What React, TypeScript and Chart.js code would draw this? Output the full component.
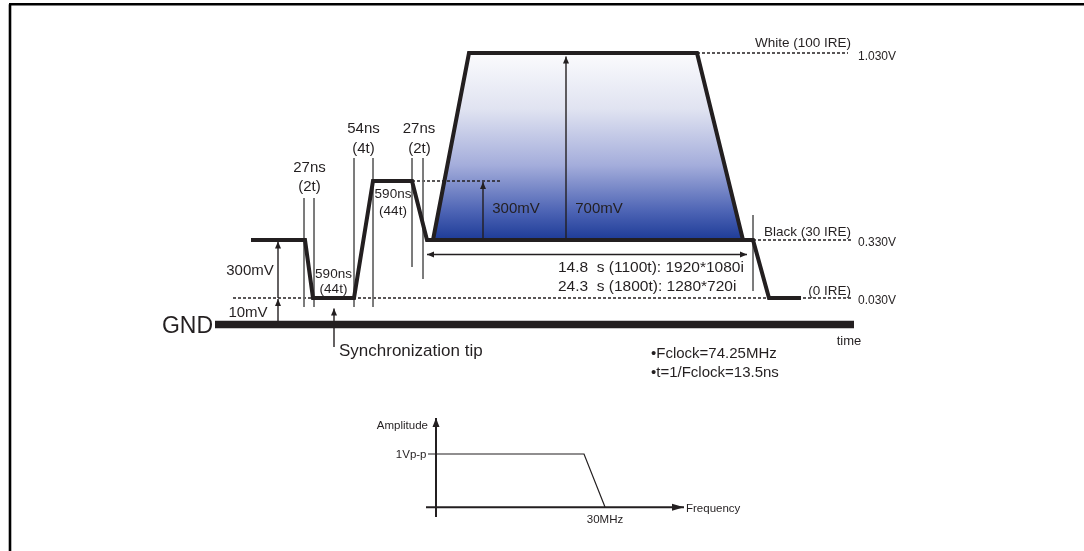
import React, { useEffect, useRef } from "react";
import { Chart, registerables } from "chart.js";

Chart.register(...registerables);

const FONT = '"Liberation Sans", Arial, Helvetica, sans-serif';
const INK = "#231f20";
const GRID = "#6b6b6b";

// Diagram levels (vertical diagram units, counted from the top of the figure)
const LEVEL_WHITE = 53;
const LEVEL_HIGH = 181;
const LEVEL_BLACK = 240;
const LEVEL_SYNC = 298;
const LEVEL_GND = 324.5;
const Y_RANGE = [0, 551];
const X_RANGE = [0, 1084];

// Tri-level sync waveform (time in diagram units)
const WAVE_T = [251, 305, 313, 354, 373, 412, 427, 753, 769, 801];
const WAVE_V = [
  LEVEL_BLACK, LEVEL_BLACK, LEVEL_SYNC, LEVEL_SYNC, LEVEL_HIGH,
  LEVEL_HIGH, LEVEL_BLACK, LEVEL_BLACK, LEVEL_SYNC, LEVEL_SYNC,
];

// Active video pulse (black -> white -> black)
const BURST_T = [433, 469, 697, 743];
const BURST_V = [LEVEL_BLACK, LEVEL_WHITE, LEVEL_WHITE, LEVEL_BLACK];

// Dashed reference levels
const REF_LEVEL = [LEVEL_WHITE, LEVEL_HIGH, LEVEL_BLACK, LEVEL_SYNC];
const REF_START = [697, 412, 753, 233];
const REF_END = [848, 502, 852, 852];

// Thin timing markers
const MARK_T = [304, 314, 354, 373, 412, 423, 753];
const MARK_TOP = [198, 198, 158, 158, 158, 158, 215];
const MARK_BOTTOM = [307, 307, 307, 307, 267, 279, 291];

// Ground bar
const GND_T = [215, 854];

// Measurement arrows: start -> tip
const ARROW_X1 = [278, 278, 334, 483, 566, 427];
const ARROW_Y1 = [298, 321, 347, LEVEL_BLACK, LEVEL_BLACK, 254.5];
const ARROW_X2 = [278, 278, 334, 483, 566, 747];
const ARROW_Y2 = [241.5, 299, 308.5, 182, 56.5, 254.5];
const ARROW_BOTH = [false, false, false, false, false, true];

// Inset: amplitude vs frequency response
const FREQ_F = [428, 584, 605];
const FREQ_A = [454, 454, 507];
const INSET_YAXIS_X = 436;
const INSET_YAXIS = [517, 418];
const INSET_XAXIS_Y = 507.3;
const INSET_XAXIS = [426, 684];

// Frame lines
const FRAME_TOP = [9, 1084];
const FRAME_TOP_Y = 4.3;
const FRAME_LEFT_X = 10;
const FRAME_LEFT = [4.3, 551];

type Label = { text: string; x: number; y: number; size: number; align?: CanvasTextAlign; color?: string };

const LABELS: Label[] = [
  { text: "White (100 IRE)", x: 851, y: 42, size: 13.5, align: "right" },
  { text: "1.030V", x: 858, y: 55.5, size: 12, align: "left" },
  { text: "Black (30 IRE)", x: 851, y: 231.5, size: 13.5, align: "right" },
  { text: "0.330V", x: 858, y: 242, size: 12, align: "left" },
  { text: "(0 IRE)", x: 851, y: 290.5, size: 13.5, align: "right" },
  { text: "0.030V", x: 858, y: 299.5, size: 12, align: "left" },
  { text: "time", x: 849, y: 340, size: 13, align: "center" },
  { text: "GND", x: 213, y: 324.5, size: 23, align: "right" },
  { text: "Synchronization tip", x: 339, y: 350, size: 17, align: "left" },
  { text: "27ns", x: 309.5, y: 167, size: 15, align: "center" },
  { text: "(2t)", x: 309.5, y: 186, size: 15, align: "center" },
  { text: "54ns", x: 363.5, y: 128, size: 15, align: "center" },
  { text: "(4t)", x: 363.5, y: 148, size: 15, align: "center" },
  { text: "27ns", x: 419, y: 128, size: 15, align: "center" },
  { text: "(2t)", x: 419.5, y: 148, size: 15, align: "center" },
  { text: "590ns", x: 393, y: 193, size: 13.5, align: "center" },
  { text: "(44t)", x: 393, y: 210, size: 13.5, align: "center" },
  { text: "590ns", x: 333.5, y: 273, size: 13.5, align: "center" },
  { text: "(44t)", x: 333.5, y: 288.5, size: 13.5, align: "center" },
  { text: "300mV", x: 250, y: 270, size: 15, align: "center" },
  { text: "10mV", x: 248, y: 311.5, size: 15, align: "center" },
  { text: "300mV", x: 516, y: 208, size: 15, align: "center" },
  { text: "700mV", x: 599, y: 208, size: 15, align: "center" },
  { text: "14.8  s (1100t): 1920*1080i", x: 558, y: 266.5, size: 15.5, align: "left" },
  { text: "24.3  s (1800t): 1280*720i", x: 558, y: 285, size: 15.5, align: "left" },
  { text: "•Fclock=74.25MHz", x: 651, y: 353, size: 15, align: "left" },
  { text: "•t=1/Fclock=13.5ns", x: 651, y: 371.5, size: 15, align: "left" },
  { text: "Amplitude", x: 428, y: 425, size: 11.5, align: "right" },
  { text: "1Vp-p", x: 426.5, y: 454, size: 11.5, align: "right" },
  { text: "30MHz", x: 605, y: 518.5, size: 11.5, align: "center" },
  { text: "Frequency", x: 686, y: 507.5, size: 11.5, align: "left" },
];

const labelPlugin = {
  id: "diagramLabels",
  afterDatasetsDraw(chart: any) {
    const { ctx, scales } = chart;
    ctx.save();
    LABELS.forEach((l) => {
      ctx.font = `${l.size}px ${FONT}`;
      ctx.fillStyle = l.color || INK;
      ctx.textAlign = l.align || "center";
      ctx.textBaseline = "alphabetic";
      const px = scales.x.getPixelForValue(l.x);
      const py = scales.y.getPixelForValue(l.y);
      ctx.fillText(l.text, px, py + l.size * 0.36);
    });
    ctx.restore();
  },
};

const arrowPlugin = {
  id: "arrowheads",
  afterDatasetsDraw(chart: any) {
    const ctx = chart.ctx;
    chart.data.datasets.forEach((ds: any, i: number) => {
      if (!ds.arrow) return;
      const pts = chart.getDatasetMeta(i).data;
      const n = pts.length;
      if (n < 2) return;
      const L = ds.arrowLength || 7;
      const W = ds.arrowWidth || 3;
      const head = (tip: any, from: any) => {
        const a = Math.atan2(tip.y - from.y, tip.x - from.x);
        const c = Math.cos(a);
        const s = Math.sin(a);
        ctx.save();
        ctx.fillStyle = ds.borderColor;
        ctx.beginPath();
        ctx.moveTo(tip.x, tip.y);
        ctx.lineTo(tip.x - L * c + W * s, tip.y - L * s - W * c);
        ctx.lineTo(tip.x - L * c - W * s, tip.y - L * s + W * c);
        ctx.closePath();
        ctx.fill();
        ctx.restore();
      };
      head(pts[n - 1], pts[n - 2]);
      if (ds.arrow === "both") head(pts[0], pts[1]);
    });
  },
};

function seg(x1: number, y1: number, x2: number, y2: number) {
  return [
    { x: x1, y: y1 },
    { x: x2, y: y2 },
  ];
}

const base = {
  showLine: true,
  pointRadius: 0,
  pointHoverRadius: 0,
  pointHitRadius: 0,
  tension: 0,
  clip: false as const,
  fill: false,
  borderCapStyle: "butt" as const,
};

function levelPixel(chart: any, v: number) {
  const ys = chart.scales && chart.scales.y;
  const p = ys ? ys.getPixelForValue(v) : NaN;
  if (Number.isFinite(p)) return p;
  return (v / Y_RANGE[1]) * (chart.height || 551);
}

export default function App() {
  const canvasRef = useRef<HTMLCanvasElement | null>(null);

  useEffect(() => {
    const canvas = canvasRef.current;
    if (!canvas) return;

    const datasets: any[] = [];

    // frame
    datasets.push({ ...base, order: 9, data: seg(FRAME_TOP[0], FRAME_TOP_Y, FRAME_TOP[1], FRAME_TOP_Y), borderColor: "#000", borderWidth: 2.6 });
    datasets.push({ ...base, order: 9, data: seg(FRAME_LEFT_X, FRAME_LEFT[0], FRAME_LEFT_X, FRAME_LEFT[1]), borderColor: "#000", borderWidth: 2.6 });

    // gradient fill of the active video pulse
    datasets.push({
      ...base,
      order: 8,
      data: BURST_T.map((t, i) => ({ x: t, y: BURST_V[i] })),
      borderWidth: 0,
      borderColor: "rgba(0,0,0,0)",
      fill: { value: LEVEL_BLACK },
      backgroundColor: (c: any) => {
        const chart = c.chart;
        const top = levelPixel(chart, LEVEL_WHITE);
        const bottom = levelPixel(chart, LEVEL_BLACK);
        if (!Number.isFinite(top) || !Number.isFinite(bottom)) return "#7080c0";
        const g = chart.ctx.createLinearGradient(0, top, 0, bottom);
        g.addColorStop(0, "#fbfbfd");
        g.addColorStop(0.3, "#e0e3f1");
        g.addColorStop(0.6, "#a4addb");
        g.addColorStop(0.85, "#4c63b4");
        g.addColorStop(1, "#1d3b97");
        return g;
      },
    });

    // dashed reference levels
    REF_LEVEL.forEach((lv, i) => {
      datasets.push({ ...base, order: 7, data: seg(REF_START[i], lv, REF_END[i], lv), borderColor: INK, borderWidth: 1.4, borderDash: [3, 2] });
    });

    // timing markers
    MARK_T.forEach((t, i) => {
      datasets.push({ ...base, order: 6, data: seg(t, MARK_TOP[i], t, MARK_BOTTOM[i]), borderColor: GRID, borderWidth: 1 });
    });

    // measurement arrows
    ARROW_X1.forEach((x1, i) => {
      datasets.push({
        ...base,
        order: 5,
        data: seg(x1, ARROW_Y1[i], ARROW_X2[i], ARROW_Y2[i]),
        borderColor: INK,
        borderWidth: 1.4,
        arrow: ARROW_BOTH[i] ? "both" : "end",
        arrowLength: 7,
        arrowWidth: 3,
      });
    });

    // inset axes + response
    datasets.push({ ...base, order: 5, data: seg(INSET_YAXIS_X, INSET_YAXIS[0], INSET_YAXIS_X, INSET_YAXIS[1]), borderColor: INK, borderWidth: 2, arrow: "end", arrowLength: 9, arrowWidth: 3.5 });
    datasets.push({ ...base, order: 5, data: seg(INSET_XAXIS[0], INSET_XAXIS_Y, INSET_XAXIS[1], INSET_XAXIS_Y), borderColor: INK, borderWidth: 2, arrow: "end", arrowLength: 12, arrowWidth: 3.5 });
    datasets.push({ ...base, order: 5, data: FREQ_F.map((f, i) => ({ x: f, y: FREQ_A[i] })), borderColor: INK, borderWidth: 1.2, borderJoinStyle: "miter" });

    // pulse outline
    datasets.push({ ...base, order: 3, data: BURST_T.map((t, i) => ({ x: t, y: BURST_V[i] })), borderColor: INK, borderWidth: 4, borderJoinStyle: "miter" });

    // sync waveform
    datasets.push({ ...base, order: 2, data: WAVE_T.map((t, i) => ({ x: t, y: WAVE_V[i] })), borderColor: INK, borderWidth: 4, borderJoinStyle: "miter" });

    // GND bar
    datasets.push({ ...base, order: 1, data: seg(GND_T[0], LEVEL_GND, GND_T[1], LEVEL_GND), borderColor: INK, borderWidth: 7.6 });

    const chart = new Chart(canvas, {
      type: "scatter",
      data: { datasets },
      options: {
        animation: false,
        responsive: false,
        devicePixelRatio: 1,
        events: [],
        layout: { padding: 0 },
        plugins: { legend: { display: false }, tooltip: { enabled: false } },
        scales: {
          x: { type: "linear", min: X_RANGE[0], max: X_RANGE[1], display: false },
          y: { type: "linear", min: Y_RANGE[0], max: Y_RANGE[1], reverse: true, display: false },
        },
      },
      plugins: [arrowPlugin, labelPlugin],
    } as any);

    return () => chart.destroy();
  }, []);

  return (
    <div style={{ position: "absolute", left: 0, top: 0, width: 1084, height: 551, background: "#fff", overflow: "hidden" }}>
      <canvas ref={canvasRef} width={1084} height={551} style={{ width: 1084, height: 551, display: "block" }} />
    </div>
  );
}
